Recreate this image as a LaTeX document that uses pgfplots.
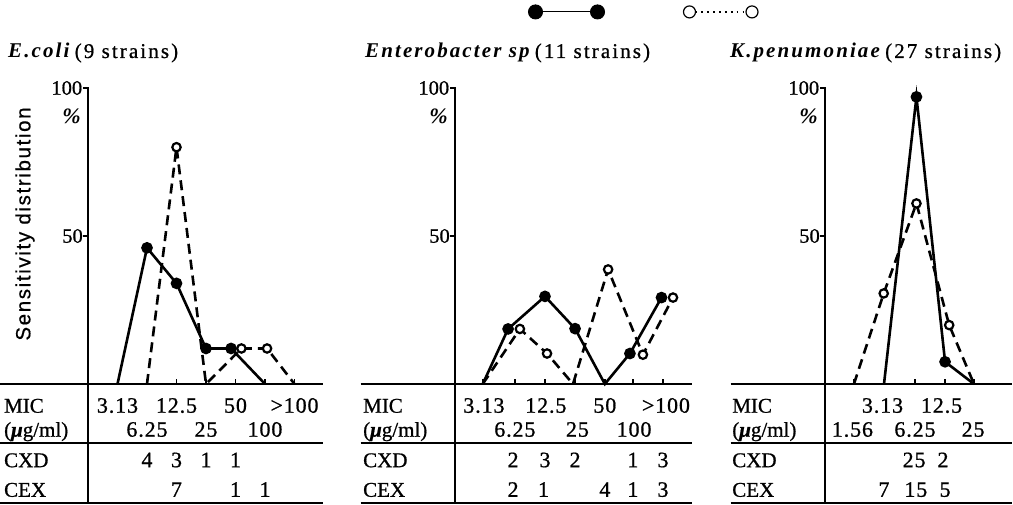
\documentclass[border=0pt]{standalone}
\usepackage{pgfplots}
\pgfplotsset{compat=1.18}
\usepackage{fontspec}
\setmainfont{Liberation Serif}
\newfontfamily\spacedserif[LetterSpace=10, FakeBold=0.8]{Liberation Serif}
\newfontfamily\speciesfont[LetterSpace=10]{Liberation Serif}
\newfontfamily\numserif[LetterSpace=4, FakeBold=0.8]{Liberation Serif}
\newfontfamily\rowserif[FakeBold=0.8]{Liberation Serif}
\newfontfamily\ylabfont[LetterSpace=8, FakeBold=0.6]{Liberation Sans}
\newcommand\fsT{\fontsize{21}{25}\selectfont}
\newcommand\fsM{\fontsize{22}{26}\selectfont}
\newcommand\fsN{\fontsize{20.5}{24}\selectfont}
\pgfplotsset{
  panel/.style={x=29.5pt, y=2.96pt, ymin=-40.5, ymax=100, hide axis, clip=false, anchor=south west},
  cxd/.style={black, line width=2.6pt, mark=*, mark size=4.5pt, mark options={solid}},
  cex/.style={black, line width=2.6pt, dash pattern=on 10pt off 6pt, mark=*, mark size=4.2pt,
              mark options={solid, line width=2.2pt, fill=white}},
}
\tikzset{
  mic/.style={anchor=base, inner sep=0pt, font=\numserif\fsM},
  rowlab/.style={anchor=base west, inner sep=0pt, font=\rowserif\fsT},
}
% #1 xmin, #2 xmax, #3 x of row labels
\newcommand\panelframe[3]{%
  \draw[line width=2pt] (axis cs:#1,0) -- (axis cs:#2,0);
  \draw[line width=2pt] (axis cs:#1,-19.9) -- (axis cs:#2,-19.9);
  \draw[line width=2pt] (axis cs:#1,-40.1) -- (axis cs:#2,-40.1);
  \draw[line width=2pt] (axis cs:0,-40.1) -- (axis cs:0,100) -- (axis cs:-0.17,100);
  \draw[line width=2pt] (axis cs:0,50) -- (axis cs:-0.17,50);
  \node[anchor=east, inner sep=0pt, font=\rowserif\fsN] at (axis cs:-0.19,100) {100};
  \node[anchor=east, inner sep=0pt, font=\fsM\bfseries\itshape] at (axis cs:-0.24,90.5) {\%};
  \node[anchor=east, inner sep=0pt, font=\rowserif\fsN] at (axis cs:-0.17,50) {50};
  \node[rowlab] at (axis cs:#3,-9.7) {MIC};
  \node[rowlab] at (axis cs:#3,-17.8) {(\textbf{\textit{μ}}g/ml)};
  \node[rowlab] at (axis cs:#3,-28.1) {CXD};
  \node[rowlab] at (axis cs:#3,-38.1) {CEX};
}
\newcommand\xtickmarks[1]{%
  \pgfplotsinvokeforeach{#1}{\draw[line width=1.6pt] (axis cs:##1,0) -- (axis cs:##1,1.8);}%
}
\begin{document}
\begin{tikzpicture}
\path[use as bounding box] (0pt,0pt) rectangle (1013pt,504pt);

% ---------------- Panel 1: E. coli ----------------
\begin{axis}[panel, xmin=-3, xmax=7.97, at={(-0.5pt,0.12pt)}]
\panelframe{-3}{7.97}{-2.85}
\xtickmarks{1,2,3,4,5,6,7}
\node[mic] at (axis cs:1,-9.7) {3.13};
\node[mic] at (axis cs:3,-9.7) {12.5};
\node[mic] at (axis cs:5,-9.7) {50};
\node[mic] at (axis cs:7,-9.7) {>100};
\node[mic] at (axis cs:2,-17.8) {6.25};
\node[mic] at (axis cs:4,-17.8) {25};
\node[mic] at (axis cs:6,-17.8) {100};
\node[mic] at (axis cs:2,-28.1) {4};
\node[mic] at (axis cs:3,-28.1) {3};
\node[mic] at (axis cs:4,-28.1) {1};
\node[mic] at (axis cs:5,-28.1) {1};
\node[mic] at (axis cs:3,-38.1) {7};
\node[mic] at (axis cs:5,-38.1) {1};
\node[mic] at (axis cs:6,-38.1) {1};
\addplot[cxd, mark indices={2,3,4,5}] coordinates {(1,0) (2,46) (3,34) (4,12) (4.85,12) (6,0)};
\addplot[cex, mark indices={2,4,5}] coordinates {(2,0) (3,80) (4,0) (5.2,12) (6.07,12) (7,0)};
\end{axis}

% ---------------- Panel 2: Enterobacter ----------------
\begin{axis}[panel, xmin=-3.2, xmax=8.05, at={(360.6pt,0.12pt)}]
\panelframe{-3.2}{8.05}{-3.12}
\xtickmarks{0.94,2.03,3.05,4.07,5.08,6.03,7.05}
\node[mic] at (axis cs:0.98,-9.7) {3.13};
\node[mic] at (axis cs:3.08,-9.7) {12.5};
\node[mic] at (axis cs:5.08,-9.7) {50};
\node[mic] at (axis cs:7.15,-9.7) {>100};
\node[mic] at (axis cs:2.03,-17.8) {6.25};
\node[mic] at (axis cs:4.15,-17.8) {25};
\node[mic] at (axis cs:6.07,-17.8) {100};
\node[mic] at (axis cs:1.97,-28.1) {2};
\node[mic] at (axis cs:3.05,-28.1) {3};
\node[mic] at (axis cs:4.07,-28.1) {2};
\node[mic] at (axis cs:6.03,-28.1) {1};
\node[mic] at (axis cs:7.05,-28.1) {3};
\node[mic] at (axis cs:1.97,-38.1) {2};
\node[mic] at (axis cs:3.0,-38.1) {1};
\node[mic] at (axis cs:5.08,-38.1) {4};
\node[mic] at (axis cs:6.03,-38.1) {1};
\node[mic] at (axis cs:7.05,-38.1) {3};
\addplot[cxd, mark indices={2,3,4,6,7}] coordinates {(0.94,0) (1.8,18.6) (3.05,29.6) (4.07,18.7) (5.08,0) (5.93,10.3) (7.0,29.2)};
\addplot[cex, mark indices={2,3,5,6,7}] coordinates {(0.94,0) (2.2,18.6) (3.12,10.3) (4.0,0) (5.19,38.7) (6.37,9.9) (7.39,29.2)};
% key at the top: CXD (filled, solid) and CEX (open, dotted)
\addplot[black, line width=1pt, mark=*, mark size=7pt, forget plot] coordinates {(2.729,125.7) (4.831,125.7)};
\addplot[black, line width=1.7pt, dash pattern=on 1.7pt off 4.2pt, mark=*, mark size=6pt,
  mark options={solid, line width=1.2pt, fill=white}, forget plot] coordinates {(7.949,125.7) (10.068,125.7)};
\end{axis}

% ---------------- Panel 3: K. pneumoniae ----------------
\begin{axis}[panel, xmin=-3.2, xmax=6.35, at={(730.6pt,0.12pt)}]
\panelframe{-3.2}{6.35}{-3.15}
\xtickmarks{0.98,2.0,3.05,4.07,5.05}
\node[mic] at (axis cs:1.95,-9.7) {3.13};
\node[mic] at (axis cs:3.95,-9.7) {12.5};
\node[mic] at (axis cs:0.93,-17.8) {1.56};
\node[mic] at (axis cs:3.05,-17.8) {6.25};
\node[mic] at (axis cs:5.02,-17.8) {25};
\node[mic] at (axis cs:3.02,-28.1) {25};
\node[mic] at (axis cs:4.0,-28.1) {2};
\node[mic] at (axis cs:2.0,-38.1) {7};
\node[mic] at (axis cs:3.08,-38.1) {15};
\node[mic] at (axis cs:4.07,-38.1) {5};
\addplot[cxd, mark indices={2,3}] coordinates {(2.0,0) (3.1,97) (4.07,7.5) (5.05,0)};
\addplot[cex, mark indices={2,3,4}] coordinates {(0.98,0) (1.99,30.6) (3.1,61) (4.21,19.9) (5.05,0)};
\end{axis}

% titles and shared label
\node[anchor=base west, inner sep=0pt, font=\fsT] at (8pt,446pt)
  {{\speciesfont\bfseries\itshape E.coli} {\spacedserif (9 strains)}};
\node[anchor=base west, inner sep=0pt, font=\fsT] at (365pt,446pt)
  {{\speciesfont\bfseries\itshape Enterobacter sp} {\spacedserif (11 strains)}};
\node[anchor=base west, inner sep=0pt, font=\fsT] at (730pt,446pt)
  {{\speciesfont\bfseries\itshape K.penumoniae} {\spacedserif (27 strains)}};
\node[rotate=90, inner sep=0pt, font=\ylabfont\fontsize{20.5}{24}\selectfont] at (25pt,280pt)
  {Sensitivity distribution};
\end{tikzpicture}
\end{document}
